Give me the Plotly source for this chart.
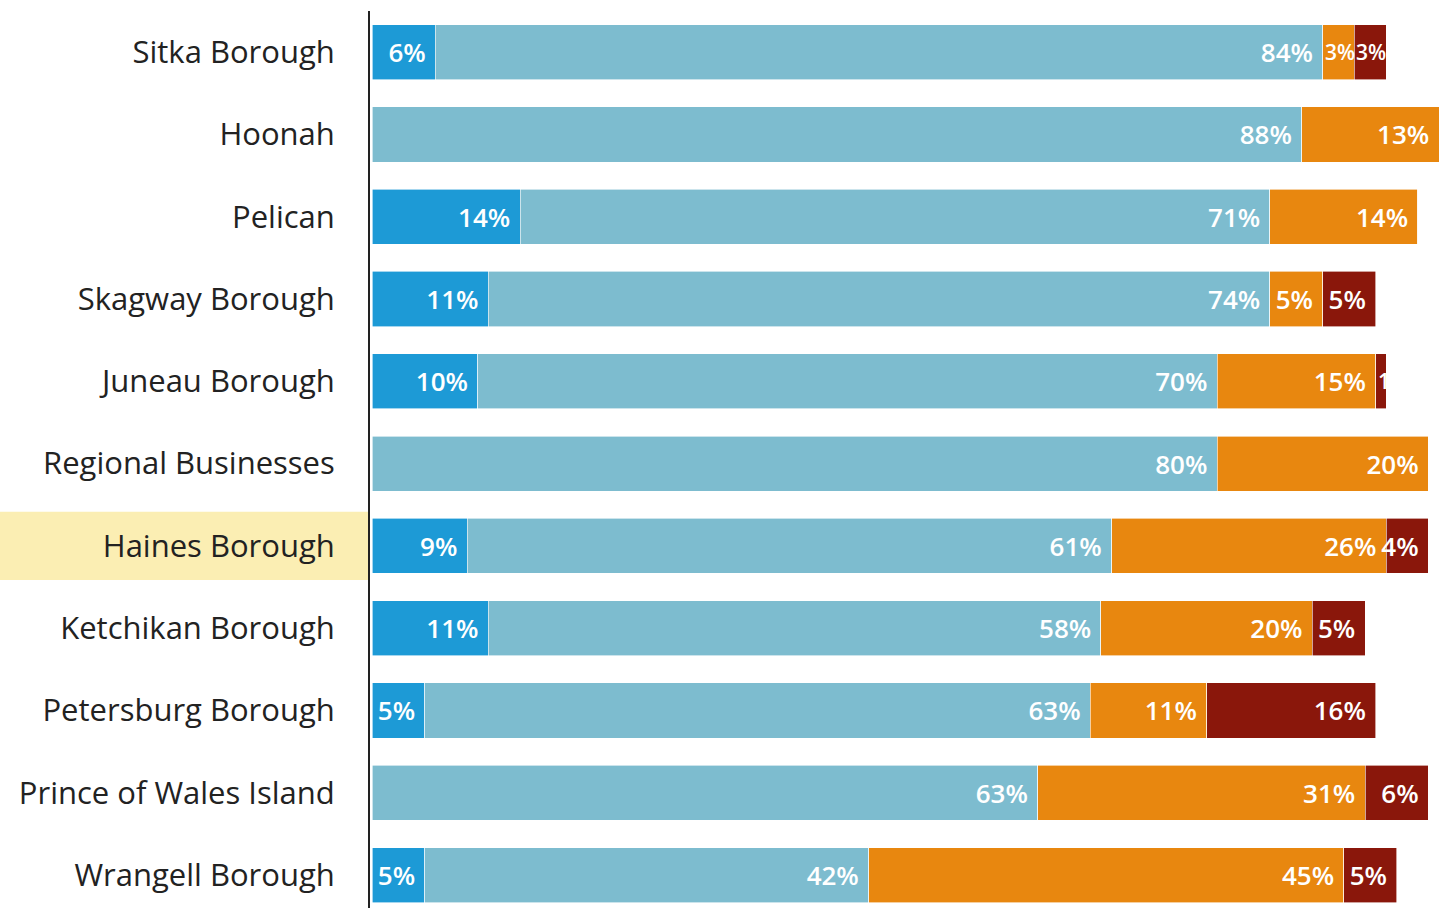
import plotly.graph_objects as go

# Community survey shares by response group (percent)
communities = [
    "Sitka Borough", "Hoonah", "Pelican", "Skagway Borough", "Juneau Borough",
    "Regional Businesses", "Haines Borough", "Ketchikan Borough",
    "Petersburg Borough", "Prince of Wales Island", "Wrangell Borough",
]
group_a = [6, 0, 14, 11, 10, 0, 9, 11, 5, 0, 5]
group_b = [84, 88, 71, 74, 70, 80, 61, 58, 63, 63, 42]
group_c = [3, 13, 14, 5, 15, 20, 26, 20, 11, 31, 45]
group_d = [3, 0, 0, 5, 1, 0, 4, 5, 16, 6, 5]
highlight = "Haines Borough"

series = [
    (group_a, "#1d9ad6"),
    (group_b, "#7dbccf"),
    (group_c, "#e8870f"),
    (group_d, "#8a170b"),
]

SMALL = 3  # segments this narrow get their label starting at the segment's left edge

fig = go.Figure()
base = [0] * len(communities)
small_labels = []
for values, color in series:
    fig.add_trace(go.Bar(
        y=communities,
        x=values,
        orientation="h",
        marker=dict(color=color, line=dict(color="white", width=0.6)),
        text=[f"{v}%\u00a0" if v > SMALL else "" for v in values],
        textposition="inside",
        insidetextanchor="end",
        textangle=0,
        textfont=dict(family="Open Sans", size=26, color="white", weight=600),
        cliponaxis=False,
        hoverinfo="skip",
    ))
    for i, v in enumerate(values):
        if 0 < v <= SMALL:
            small_labels.append((base[i], communities[i], v))
    base = [b + v for b, v in zip(base, values)]

for x0, cat, v in small_labels:
    fig.add_annotation(
        x=x0, y=cat, xref="x", yref="y",
        text=f"{v}%", showarrow=False,
        xanchor="left", xshift=0,
        font=dict(family="Open Sans", size=21, color="white", weight=600),
    )

# Highlight band behind the selected community label
hi = communities.index(highlight)
fig.add_shape(
    type="rect", xref="paper", yref="y",
    x0=-370 / 1069, x1=-2 / 1069, y0=hi - 0.415, y1=hi + 0.415,
    fillcolor="#fbeeb3", line=dict(width=0), layer="below",
)

fig.update_layout(
    barmode="stack",
    bargap=0.33,
    width=1439, height=908,
    margin=dict(l=370, r=0, t=11, b=0),
    paper_bgcolor="white",
    plot_bgcolor="white",
    showlegend=False,
    uniformtext=dict(minsize=26, mode="show"),
    font=dict(family="Open Sans", color="#222222"),
)
fig.update_xaxes(range=[-0.2, 101], visible=False, fixedrange=True)
fig.update_yaxes(
    range=[10.4, -0.5],
    showline=True, linecolor="#222222", linewidth=2,
    showgrid=False, ticks="",
    ticklabelstandoff=27,
    tickfont=dict(family="Open Sans", size=31, color="#222222"),
    fixedrange=True,
)

fig.write_html("out.html", config={"displayModeBar": False})
